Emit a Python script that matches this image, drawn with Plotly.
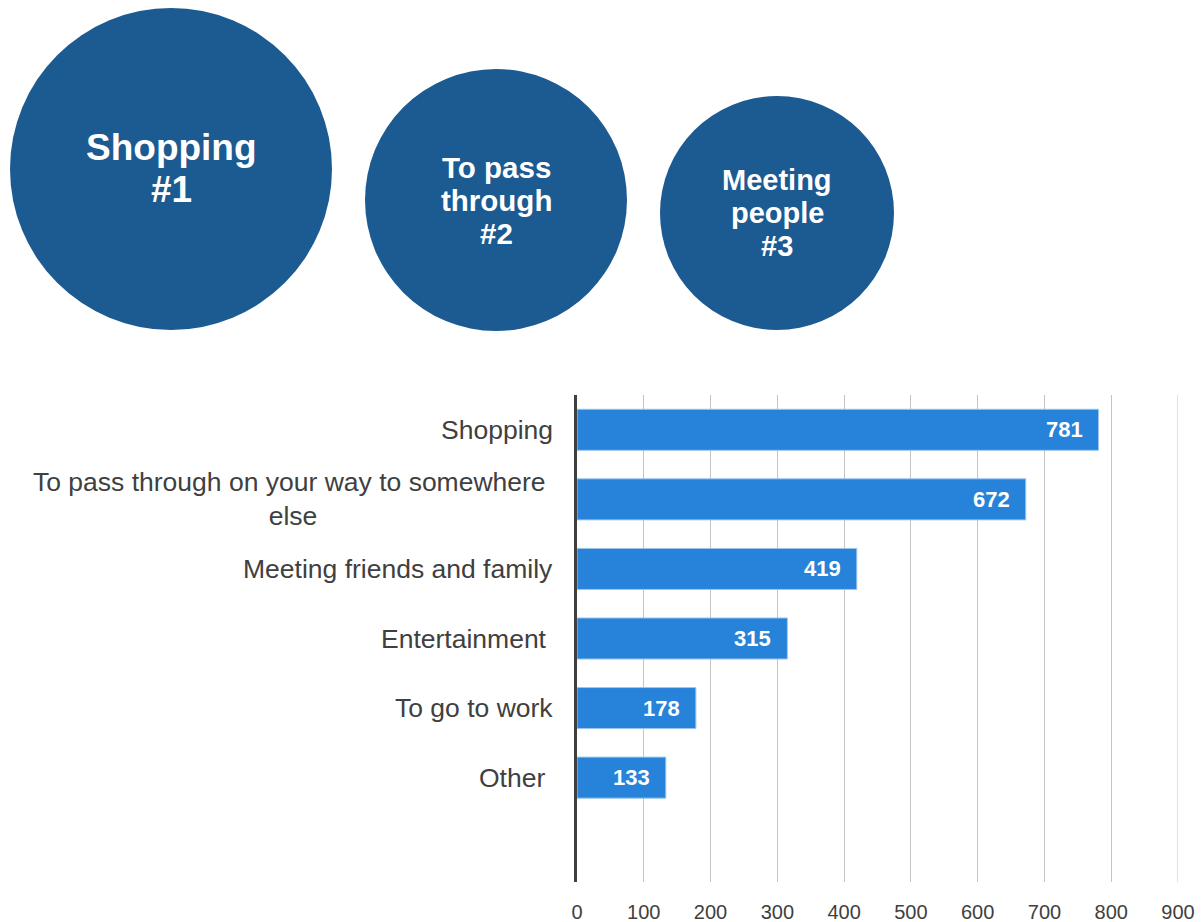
import plotly.graph_objects as go

# Reasons for visiting, number of responses
categories = [
    "Shopping",
    "To pass through on your way to somewhere <br>else",
    "Meeting friends and family",
    "Entertainment ",
    "To go to work",
    "Other ",
]
responses = [781, 672, 419, 315, 178, 133]
x_ticks = [0, 100, 200, 300, 400, 500, 600, 700, 800, 900]

# Top three reasons shown as bubbles
top_labels = [["Shopping", "#1"], ["To pass", "through", "#2"], ["Meeting", "people", "#3"]]
top_font_sizes = [37, 29.5, 29]
top_line_gaps = [42, 33, 33]

BAR = "#2683D9"
BUBBLE = "#1C5A92"
TEXT = "#404040"
GRID = "#C4C4C4"
FONT = "Liberation Sans, Arial, sans-serif"

W, H = 1204, 922
ML, MR, MT, MB = 577, 26, 395, 40
PW, PH = W - ML - MR, H - MT - MB


def px_to_paper(px, py):
    return (px - ML) / PW, (H - MB - py) / PH


fig = go.Figure()
fig.add_trace(go.Bar(
    x=responses,
    y=list(range(len(categories))),
    orientation="h",
    width=0.59,
    marker=dict(color=BAR, line=dict(color="#9CC6EE", width=1)),
    hoverinfo="x",
))

annotations = []
for i, (cat, val) in enumerate(zip(categories, responses)):
    annotations.append(dict(
        x=0, xref="paper", y=i, yref="y", text=cat, showarrow=False,
        xanchor="right", yanchor="middle", align="center", xshift=-22,
        font=dict(family=FONT, size=26.5, color=TEXT),
    ))
    annotations.append(dict(
        x=val, xref="x", y=i, yref="y", text=f"<b>{val}</b>", showarrow=False,
        xanchor="right", yanchor="middle", xshift=-14,
        font=dict(family=FONT, size=22, color="white"),
    ))

# Gridline at the far end of the value axis
shapes = [dict(
    type="line", xref="x", yref="paper", x0=x_ticks[-1], x1=x_ticks[-1],
    y0=0, y1=1, line=dict(color=GRID, width=1), layer="below",
)]

# Bubble geometry in pixels: centre x, centre y, radius
bubbles = [(171, 169, 161), (496, 200, 131), (777, 213, 117)]
for (cx, cy, r), lines, fs, gap in zip(bubbles, top_labels, top_font_sizes, top_line_gaps):
    ax, ay = px_to_paper(cx, cy)
    shapes.append(dict(
        type="circle", xref="paper", yref="paper",
        xsizemode="pixel", ysizemode="pixel", xanchor=ax, yanchor=ay,
        x0=-r, x1=r, y0=-r, y1=r,
        fillcolor=BUBBLE, line=dict(width=0), layer="above",
    ))
    n = len(lines)
    for k, line in enumerate(lines):
        annotations.append(dict(
            x=ax, y=ay, xref="paper", yref="paper", text=f"<b>{line}</b>",
            showarrow=False, xanchor="center", yanchor="middle",
            yshift=((n - 1) / 2 - k) * gap,
            font=dict(family=FONT, size=fs, color="white"),
        ))

fig.update_layout(
    width=W, height=H,
    margin=dict(l=ML, r=MR, t=MT, b=MB, autoexpand=False),
    plot_bgcolor="white", paper_bgcolor="white",
    showlegend=False,
    annotations=annotations,
    shapes=shapes,
    xaxis=dict(
        range=[0, 900], tickvals=x_ticks, showgrid=True,
        gridcolor=GRID, gridwidth=1, zeroline=False,
        showline=False, ticks="outside", ticklen=12,
        tickcolor="rgba(0,0,0,0)", automargin=False,
        tickfont=dict(family=FONT, size=20, color=TEXT),
        fixedrange=True,
    ),
    yaxis=dict(
        range=[6.5, -0.5], showticklabels=False, showgrid=False,
        zeroline=False, showline=True, linecolor="#404040", linewidth=3,
        automargin=False, fixedrange=True,
    ),
)

fig.write_html("out.html")
